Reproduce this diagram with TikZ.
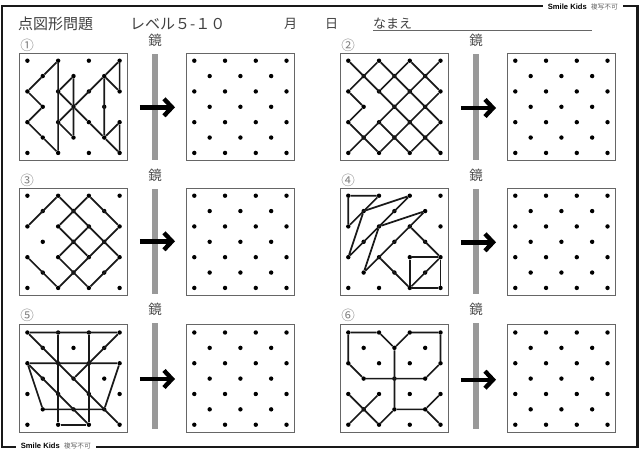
\documentclass[tikz,border=0pt]{standalone}
\usepackage{fontspec}
\setmainfont{Noto Sans CJK JP}
\newfontfamily\tagfont{Liberation Sans}
\usetikzlibrary{arrows.meta}
\tikzset{>={Straight Barb[length=8pt,width=17pt]}}
\tikzset{
    pagefrm/.style={line width=2.2pt,black!90},
    panelbox/.style={draw=black!60,line width=0.8pt,minimum size=107.6pt,inner sep=0pt},
    griddot/.style={circle,fill=black,inner sep=0pt,minimum size=4.4pt},
    figline/.style={line width=1.7pt,black!90},
    mirrorbar/.style={fill=black!40,inner sep=0pt,minimum width=6.4pt,minimum height=105.5pt},
    mirrorarr/.style={->,line width=4.4pt,black},
    headtxt/.style={font=\fontsize{15}{15}\selectfont,text=black!75,inner sep=0pt},
    marktxt/.style={font=\fontsize{13.5}{14}\selectfont,text=black!70,inner sep=0pt},
    numtxt/.style={font=\fontsize{13.5}{14}\selectfont,text=black!50,inner sep=0pt},
    tagbox/.style={fill=white,inner xsep=5pt,inner ysep=0pt,font=\fontsize{7.6}{8}\selectfont}
}
\newcommand{\dotpanel}[3]{
    \node[panelbox] (#1) at (#2+46.1,#3+46.1) {};
    \foreach \i in {0,...,6}{
        \foreach \j in {0,...,6}{
            \pgfmathtruncatemacro{\k}{mod(\i+\j,2)}
            \ifnum\k=0
                \node[griddot] (#1-\i-\j) at (#2+\i*15.37,#3+\j*15.37) {};
            \fi
        }
    }
}
\newcommand{\mirrorpart}[5]{
    \node[mirrorbar] (bar#1) at (#2,#3) {};
    \node[marktxt] (mark#1) at (#2,#5) {鏡};
    \coordinate (arr#1s) at (#2-15.3,#4);
    \coordinate (arr#1e) at (#2+19.8,#4);
    \draw[mirrorarr] (arr#1s) -- (arr#1e);
}
\newcommand{\tagtext}{\textbf{\tagfont Smile Kids}\hspace{4pt}{\color{black!60}\fontsize{6.8}{8}\selectfont 複写不可}}
\begin{document}
\begin{tikzpicture}[x=1pt,y=-1pt]
    \useasboundingbox[fill=white] (0,0) rectangle (640,452);
    \draw[pagefrm] (1.8,6) rectangle (637.5,447);
    \node[tagbox,anchor=west] (tagtop) at (542.7,7) {\tagtext};
    \node[tagbox,anchor=west] (tagbot) at (15.7,446) {\tagtext};

    \node[headtxt,anchor=west] (title) at (18,24) {点図形問題};
    \node[headtxt,anchor=west] (level) at (130,24) {レベル５-１０};
    \node[headtxt,font=\fontsize{13}{13}\selectfont] (month) at (290.7,24) {月};
    \node[headtxt,font=\fontsize{13}{13}\selectfont] (day) at (331.7,24) {日};
    \node[headtxt,anchor=west,font=\fontsize{13}{13}\selectfont] (name) at (373,24) {なまえ};
    \coordinate (names) at (373,30.7);
    \coordinate (namee) at (592,30.7);
    \draw[black!60,line width=0.9pt] (names) -- (namee);

    \node[numtxt] (num1) at (27,45) {①};
    \node[numtxt] (num2) at (348,45) {②};
    \node[numtxt] (num3) at (27,180) {③};
    \node[numtxt] (num4) at (348,180) {④};
    \node[numtxt] (num5) at (27,315) {⑤};
    \node[numtxt] (num6) at (348,315) {⑥};

    \mirrorpart{1}{155.2}{107.2}{107.3}{40}
    \mirrorpart{2}{476.2}{107.2}{108}{40}
    \mirrorpart{3}{155.2}{241.5}{241.3}{175}
    \mirrorpart{4}{476.2}{241.5}{242.3}{175}
    \mirrorpart{5}{155.2}{375.8}{379}{309}
    \mirrorpart{6}{476.2}{375.8}{379.7}{309}

    \dotpanel{q1}{27.4}{60.7}
    \dotpanel{a1}{194.3}{60.7}
    \dotpanel{q2}{348.3}{60.7}
    \dotpanel{a2}{515.3}{60.7}
    \dotpanel{q3}{27.4}{195.7}
    \dotpanel{a3}{194.3}{195.7}
    \dotpanel{q4}{348.3}{195.7}
    \dotpanel{a4}{515.3}{195.7}
    \dotpanel{q5}{27.4}{332.5}
    \dotpanel{a5}{194.3}{332.5}
    \dotpanel{q6}{348.3}{332.5}
    \dotpanel{a6}{515.3}{332.5}

    \draw[figline] (q1-2-0) -- (q1-1-1) -- (q1-0-2) -- (q1-1-3) -- (q1-0-4) -- (q1-1-5) -- (q1-2-6) -- (q1-2-0);
    \draw[figline] (q1-3-1) -- (q1-2-2) -- (q1-3-3) -- (q1-4-4) -- (q1-5-5) -- (q1-6-6) -- (q1-6-4) -- (q1-5-5) -- (q1-5-1);
    \draw[figline] (q1-3-1) -- (q1-3-5) -- (q1-2-4) -- (q1-3-3) -- (q1-5-1) -- (q1-6-0) -- (q1-6-2) -- (q1-5-1);

    \draw[figline] (q2-0-0) -- (q2-6-6);
    \draw[figline] (q2-2-0) -- (q2-6-4);
    \draw[figline] (q2-4-0) -- (q2-6-2);
    \draw[figline] (q2-6-0) -- (q2-0-6);
    \draw[figline] (q2-4-0) -- (q2-2-2);
    \draw[figline] (q2-2-0) -- (q2-0-2) -- (q2-1-3) -- (q2-0-4) -- (q2-2-6);
    \draw[figline] (q2-2-4) -- (q2-4-6) -- (q2-6-4);
    \draw[figline] (q2-6-2) -- (q2-2-6);

    \draw[figline] (q3-0-2) -- (q3-2-0) -- (q3-6-4) -- (q3-4-6) -- (q3-2-4) -- (q3-4-2);
    \draw[figline] (q3-4-0) -- (q3-6-2) -- (q3-2-6) -- (q3-0-4);
    \draw[figline] (q3-4-0) -- (q3-2-2) -- (q3-4-4);

    \draw[figline] (q4-0-2) -- (q4-0-0) -- (q4-2-0) -- (q4-0-2);
    \draw[figline] (q4-1-1) -- (q4-4-0) -- (q4-0-4) -- (q4-1-1);
    \draw[figline] (q4-2-2) -- (q4-5-1) -- (q4-1-5) -- (q4-2-2);
    \draw[figline] (q4-4-2) -- (q4-6-4) -- (q4-4-6) -- (q4-2-4);
    \draw[figline] (q4-6-4) -- (q4-4-4) -- (q4-4-6) -- (q4-6-6) -- (q4-6-4);

    \draw[figline] (q5-6-0) -- (q5-0-0) -- (q5-6-6);
    \draw[figline] (q5-6-0) -- (q5-3-3);
    \draw[figline] (q5-6-2) -- (q5-0-2) -- (q5-1-5) -- (q5-5-5) -- (q5-6-2);
    \draw[figline] (q5-0-2) -- (q5-4-6);
    \draw[figline] (q5-2-0) -- (q5-2-6) -- (q5-4-6) -- (q5-4-0);

    \draw[figline] (q6-0-2) -- (q6-0-0) -- (q6-2-0) -- (q6-3-1) -- (q6-4-0) -- (q6-6-0) -- (q6-6-2) -- (q6-5-3) -- (q6-1-3) -- (q6-0-2);
    \draw[figline] (q6-3-1) -- (q6-3-5) -- (q6-2-6) -- (q6-0-4);
    \draw[figline] (q6-0-6) -- (q6-2-4);
    \draw[figline] (q6-3-5) -- (q6-5-5) -- (q6-6-4);
    \draw[figline] (q6-5-5) -- (q6-6-6);
\end{tikzpicture}
\end{document}
